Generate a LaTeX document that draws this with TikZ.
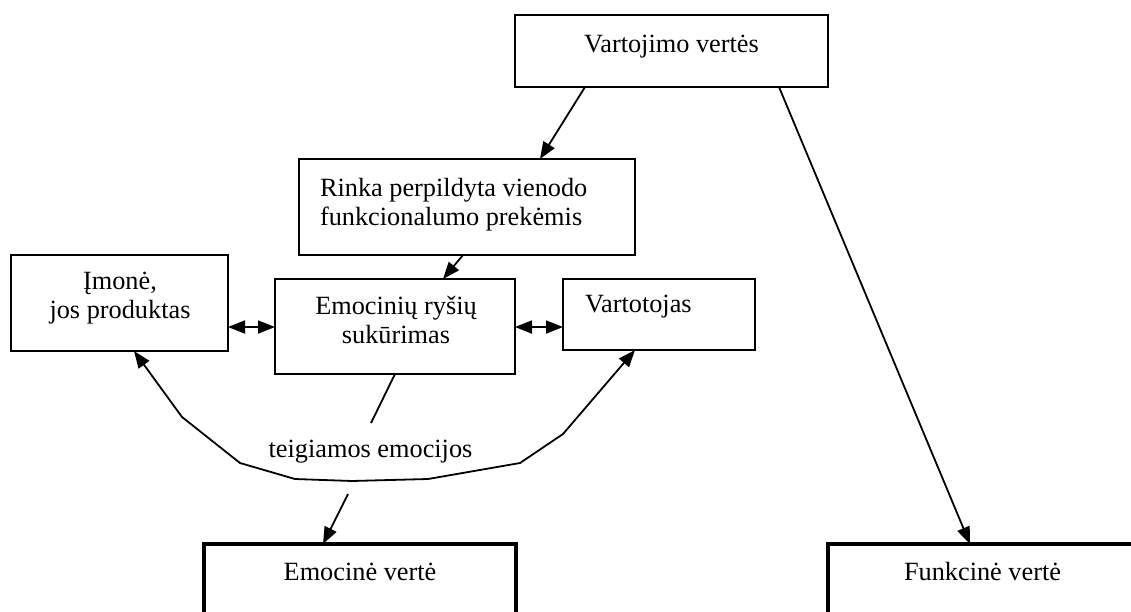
\documentclass[tikz,border=0pt]{standalone}
\usepackage{fontspec}
\setmainfont{Liberation Serif}
\usetikzlibrary{arrows.meta}
\begin{document}
\begin{tikzpicture}[x=1pt,y=-1pt,
  box/.style={draw, line width=2pt, rectangle, inner sep=0pt, outer sep=0pt},
  valbox/.style={draw, line width=4pt, rectangle, inner sep=0pt, outer sep=0pt,
    minimum width=312pt, minimum height=160pt},
  txt/.style={inner sep=0pt, outer sep=0pt, font=\fontsize{26.3}{29}\selectfont},
  tip/.style={Triangle[length=17pt,width=13pt]},
  link/.style={line width=1.8pt, -{Triangle[length=17pt,width=13pt]}},
  dlink/.style={line width=1.8pt, {Triangle[length=17pt,width=13pt]}-{Triangle[length=17pt,width=13pt]}},
  plain/.style={line width=1.8pt}]
\useasboundingbox (0,0) rectangle (1131,611);
\clip (0,0) rectangle (1131,611);

% boxes
\node[box, minimum width=313pt, minimum height=72pt] (top) at (671.5,51) {};
\node[box, minimum width=336pt, minimum height=96pt] (rinka) at (467,207) {};
\node[box, minimum width=217pt, minimum height=96pt] (imone) at (119.5,303) {};
\node[box, minimum width=240pt, minimum height=95pt] (emo) at (395,326.5) {};
\node[box, minimum width=192pt, minimum height=71pt] (vart) at (659,314.5) {};
\node[valbox] (emval) at (359.5,624) {};
\node[valbox] (funval) at (983.5,624) {};

% texts (two-line nodes are anchored at the baseline of their last line)
\node[txt, anchor=base] (ttop) at (671.5,52) {Vartojimo vertės};
\node[txt, anchor=base west, align=left] (trinka) at (320,225) {Rinka perpildyta vienodo\\funkcionalumo prekėmis};
\node[txt, anchor=base, align=center] (timone) at (120,318) {Įmonė,\\jos produktas};
\node[txt, anchor=base, align=center] (temo) at (396,343) {Emocinių ryšių\\sukūrimas};
\node[txt, anchor=base west] (tvart) at (585,312) {Vartotojas};
\node[txt, anchor=base] (tpos) at (370.5,457) {teigiamos emocijos};
\node[txt, anchor=base] (temval) at (360,580) {Emocinė vertė};
\node[txt, anchor=base west] (tfunval) at (904,580) {Funkcinė vertė};

% connectors
\draw[link] (585,0 |- top.south) -- (540,0 |- rinka.north);
\draw[link] (779,0 |- top.south) -- (970,0 |- funval.north);
\draw[link] (463,0 |- rinka.south) -- (443,0 |- emo.north);
\draw[dlink] (imone.east |- 0,327) -- (emo.west |- 0,327);
\draw[dlink] (emo.east |- 0,327) -- (vart.west |- 0,327);
\coordinate (lblend) at (371,423);
\draw[plain] (395,0 |- emo.south) -- (lblend);
\draw[dlink] (134,0 |- imone.south) -- (182,417) -- (240,463) -- (295,479)
  -- (352,481) -- (428,479) -- (520,463) -- (563,434) -- (635,0 |- vart.south);
\coordinate (emstart) at (348,494);
\draw[link] (emstart) -- (323,0 |- emval.north);
\end{tikzpicture}
\end{document}
